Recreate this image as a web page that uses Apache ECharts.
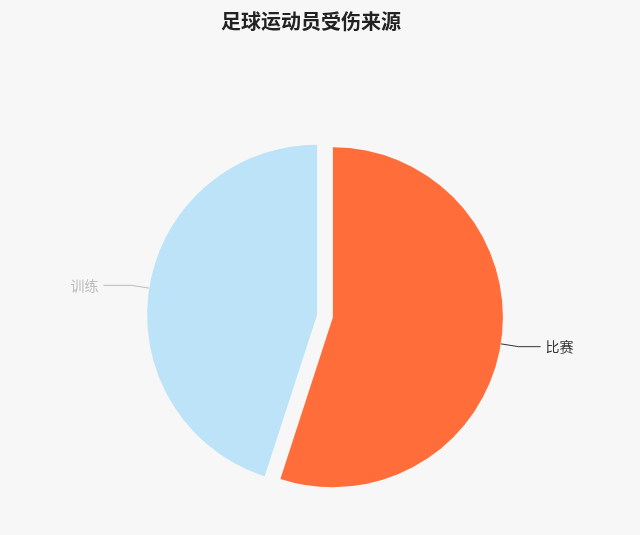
<!DOCTYPE html>
<html>
<head>
<meta charset="utf-8">
<script src="https://cdn.jsdelivr.net/npm/echarts@6/dist/echarts.min.js"></script>
<style>
  html, body { margin: 0; padding: 0; background: #f7f7f7; }
  #main { width: 640px; height: 535px; }
</style>
</head>
<body>
<div id="main"></div>
<script>
// 数据
var categories = ['比赛', '训练'];
var values = [55, 45];
var colors = ['#ff6d3b', '#bde3f8'];
var labelColors = ['#333333', '#bbbbbb'];
var lineLen2 = [22, 28];

var myChart = echarts.init(document.getElementById('main'));

var pieData = categories.map(function (name, i) {
    return {
        name: name,
        value: values[i],
        selected: true,
        itemStyle: { color: colors[i] },
        label: { color: labelColors[i] },
        labelLine: { length: 18, length2: lineLen2[i], lineStyle: { color: labelColors[i] } }
    };
});

myChart.setOption({
    backgroundColor: '#f7f7f7',
    title: {
        text: '足球运动员受伤来源',
        left: 216,
        top: 6,
        textStyle: {
            fontFamily: 'Noto Sans CJK SC',
            fontSize: 20,
            fontWeight: 'bold',
            color: '#222'
        }
    },
    series: [
        {
            type: 'pie',
            center: [325, 316],
            radius: 170,
            startAngle: 90,
            clockwise: true,
            selectedMode: 'multiple',
            selectedOffset: 8,
            emphasis: { disabled: true },
            label: {
                fontFamily: 'Noto Sans CJK SC',
                fontSize: 14
            },
            labelLine: {
                lineStyle: { width: 1 }
            },
            data: pieData
        }
    ]
});
</script>
</body>
</html>
